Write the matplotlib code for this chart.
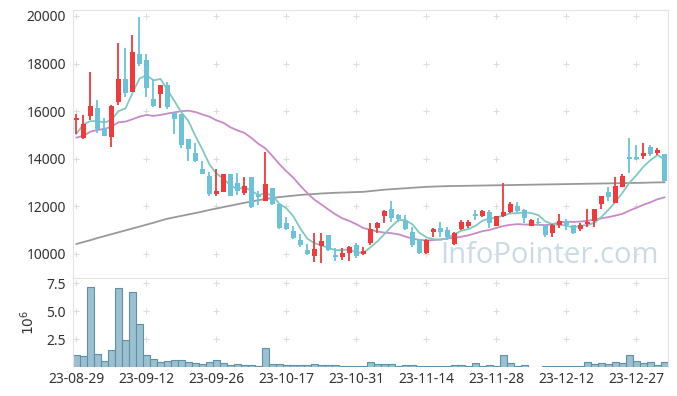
import matplotlib
matplotlib.use('Agg')
import matplotlib.pyplot as plt
import numpy as np
import pandas as pd

plt.rcParams['font.family'] = ['Noto Sans', 'DejaVu Sans']

# daily candles, 85 sessions
opens = [15630, 14880, 15810, 16120, 15280, 14930, 16400, 17350, 16820, 18400,
         18150, 16510, 16710, 17100, 15930, 15880, 14820, 14250, 13570, 13280,
         12520, 12620, 13360, 12970, 12550, 13220, 12490, 12240, 12760, 12090,
         11290, 10970, 10590, 10170, 9930, 10340, 10800, 9960, 9890, 10030,
         10380, 9990, 10450, 11105, 11600, 11890, 11640, 11400, 10940, 10620,
         10050, 10940, 11100, 11010, 10410, 11040, 11190, 11670, 11610, 11750,
         11190, 11610, 11780, 12020, 11850, 11190, 11360, 11220, 10870, 11220,
         11400, 11220, 11040, 11250, 11400, 12100, 12620, 12150, 12830, 14070,
         14070, 14130, 14480, 14260, 14200]
highs = [15880, 15840, 17660, 16470, 15720, 16250, 18850, 18670, 19200, 19940,
         18390, 17350, 17100, 17210, 15960, 15900, 14830, 14680, 13920, 13460,
         13560, 13380, 13370, 13410, 13220, 13230, 12660, 14300, 12770, 12100,
         11540, 11180, 10830, 10410, 10900, 10870, 10810, 10250, 10240, 10340,
         10450, 10280, 11290, 11330, 11830, 12240, 11660, 11640, 11120, 10640,
         10620, 11090, 11340, 11130, 10920, 11430, 11430, 11850, 11850, 11850,
         11610, 13000, 12200, 12200, 11870, 11460, 11500, 11230, 11250, 11680,
         11450, 11230, 11300, 11890, 11900, 12450, 12800, 13250, 13350, 14860,
         14580, 14680, 14580, 14440, 14210]
lows = [15050, 14850, 15630, 15080, 14970, 14500, 16260, 16610, 16790, 17910,
        16610, 16190, 16120, 16090, 15040, 14440, 13910, 13880, 13350, 12440,
        12440, 12600, 12440, 12480, 12480, 11920, 12060, 12230, 12060, 11040,
        11010, 10630, 10280, 9960, 9680, 9635, 10140, 9700, 9750, 9720,
        9820, 9960, 10380, 10870, 11290, 11360, 11360, 11000, 10310, 10000,
        10010, 10710, 10710, 10590, 10370, 11010, 11110, 11430, 11540, 11080,
        11170, 11570, 11700, 11710, 11290, 11180, 11210, 10730, 10730, 11090,
        10990, 10840, 10960, 11150, 11150, 11880, 12240, 12130, 12800, 13400,
        13960, 13980, 14120, 14160, 13040]
closes = [15720, 15460, 16220, 15250, 14970, 16220, 17350, 16780, 18500, 17980,
          16960, 16230, 17100, 16160, 15650, 14580, 14410, 13920, 13360, 12520,
          12650, 13360, 12450, 12660, 12840, 11960, 12410, 12940, 12090, 11105,
          11040, 10685, 10365, 9990, 10200, 10550, 10170, 9890, 10030, 10280,
          9920, 10130, 11040, 11290, 11820, 11500, 11460, 11040, 10380, 10030,
          10590, 11040, 10940, 10700, 10870, 11360, 11360, 11600, 11810, 11290,
          11600, 11750, 12090, 11810, 11500, 11430, 11290, 10800, 11220, 11400,
          11220, 10900, 11220, 11330, 11890, 12440, 12410, 12860, 13280, 14000,
          14000, 14230, 14200, 14350, 13080]
# volume, millions of shares
volumes = [1.07, 1.01, 7.19, 1.16, 0.57, 1.52, 7.07, 2.43, 6.72, 3.90,
           1.07, 0.72, 0.49, 0.57, 0.63, 0.63, 0.49, 0.37, 0.28, 0.49,
           0.66, 0.37, 0.22, 0.28, 0.19, 0.19, 0.10, 1.72, 0.28, 0.28,
           0.19, 0.19, 0.19, 0.19, 0.28, 0.19, 0.19, 0.19, 0.12, 0.12,
           0.12, 0.12, 0.49, 0.28, 0.28, 0.28, 0.10, 0.19, 0.19, 0.10,
           0.10, 0.10, 0.10, 0.10, 0.19, 0.19, 0.10, 0.37, 0.10, 0.19,
           0.10, 1.07, 0.37, 0.10, 0.19, 0.0, 0.0, 0.10, 0.10, 0.10,
           0.10, 0.10, 0.10, 0.49, 0.28, 0.37, 0.28, 0.49, 0.37, 1.07,
           0.57, 0.37, 0.49, 0.19, 0.49]
# moving averages before enough history is inside the window
ma5_head = [15050, 15450, 15580, 15580]
ma20_head = [14890, 14960, 15140, 15210, 15250, 15350, 15530, 15560, 15660, 15770,
             15840, 15800, 15840, 15900, 15950, 16000, 16020, 15960, 15860]
ma120 = [10420, 10500, 10580, 10670, 10750, 10830, 10910, 10990, 11070, 11150,
         11230, 11310, 11400, 11480, 11540, 11600, 11660, 11720, 11780, 11850,
         11910, 11970, 12030, 12090, 12150, 12200, 12260, 12310, 12350, 12390,
         12420, 12450, 12480, 12500, 12520, 12540, 12555, 12570, 12580, 12590,
         12600, 12610, 12640, 12670, 12700, 12720, 12740, 12760, 12780, 12800,
         12820, 12830, 12840, 12850, 12855, 12860, 12865, 12870, 12875, 12880,
         12885, 12890, 12895, 12900, 12905, 12910, 12915, 12920, 12925, 12930,
         12935, 12940, 12945, 12950, 12955, 12960, 12965, 12970, 12975, 12980,
         12985, 12990, 13000, 13005, 13010]
date_labels = ['23-08-29', '23-09-12', '23-09-26', '23-10-17', '23-10-31',
               '23-11-14', '23-11-28', '23-12-12', '23-12-27']

df = pd.DataFrame({'open': opens, 'high': highs, 'low': lows, 'close': closes, 'vol': volumes})
x = np.arange(len(df))
ma5 = df['close'].rolling(5).mean().values
ma5[:len(ma5_head)] = ma5_head
ma20 = df['close'].rolling(20).mean().values
ma20[:len(ma20_head)] = ma20_head

up = df['close'] >= df['open']
colors = np.where(up, '#f03a3c', '#6cc3d8')
body = (df['close'] - df['open']).abs().clip(lower=40)
bottom = df[['open', 'close']].min(axis=1)

fig = plt.figure(figsize=(6.77, 3.96), dpi=100)
ax = fig.add_axes([0.1078, 0.2980, 0.8789, 0.6768])
axv = fig.add_axes([0.1078, 0.0720, 0.8789, 0.2260], sharex=ax)

xticks = np.arange(0, 81, 10)
pticks = np.arange(10000, 20001, 2000)
vticks = [2.5, 5.0, 7.5]

# watermark
ax.text(0.985, 0.03, 'InfoPointer.com', transform=ax.transAxes, ha='right', va='bottom',
        fontsize=21, color='#c9dbe4', family='Open Sans', zorder=0)

# grid crosses
gx, gy = np.meshgrid(xticks, pticks)
ax.plot(gx.ravel(), gy.ravel(), '+', color='#dddddd', ms=5, mew=0.8, zorder=0)
gx, gy = np.meshgrid(xticks, vticks)
axv.plot(gx.ravel(), gy.ravel(), '+', color='#dddddd', ms=5, mew=0.8, zorder=0)

ax.plot(x, ma120, color='#999999', lw=1.3, zorder=1)
ax.plot(x, ma20, color='#c98ac8', lw=1.3, zorder=1)
ax.plot(x, ma5, color='#80c9c0', lw=1.3, zorder=1)

ax.vlines(x, df['low'], df['high'], colors=colors, lw=1.3, zorder=2)
ax.bar(x, body, bottom=bottom, width=0.72, color=colors, zorder=3)

axv.bar(x, df['vol'], width=1.0, color='#9cc0d0', edgecolor='#5e91a9', linewidth=0.8)

ax.set_xlim(-0.5, len(df) - 0.5)
ax.set_ylim(8990, 20250)
ax.set_yticks(pticks)
axv.set_ylim(0, 7.95)
axv.set_yticks(vticks)
axv.set_yticklabels(['2.5', '5.0', '7.5'])
axv.set_ylabel('$10^6$', fontsize=10, color='#333333', labelpad=6)
axv.set_xticks(xticks)
axv.set_xticklabels(date_labels)
ax.tick_params(axis='x', labelbottom=False, length=0)

for a in (ax, axv):
    a.tick_params(length=0, labelsize=10, colors='#333333', pad=5)
    for s in a.spines.values():
        s.set_color('#e3e3e3')
axv.tick_params(axis='x', pad=3)
axv.spines['bottom'].set_visible(False)
ax.spines['bottom'].set_visible(False)

fig.savefig('out.png', dpi=100)
